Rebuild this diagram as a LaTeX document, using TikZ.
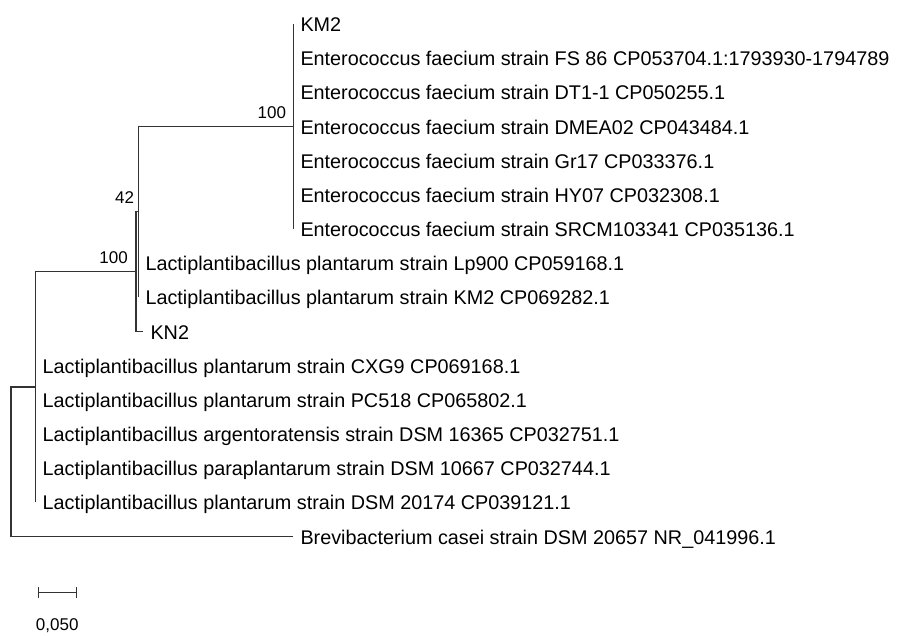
\documentclass[tikz,border=0pt]{standalone}
\usepackage{fontspec}
\setmainfont{Liberation Sans}
\usetikzlibrary{arrows.meta}

\tikzset{
  branch/.style={draw=black!80, line width=1.2pt},
  leaf/.style={anchor=base west, inner sep=0pt, xshift=7pt, yshift=-7.5pt,
    font=\fontsize{19.8}{24}\selectfont},
  boot/.style={anchor=base east, inner sep=0pt, font=\fontsize{17}{20}\selectfont},
}

\begin{document}
\begin{tikzpicture}[x=1pt,y=-1pt]
\useasboundingbox (0,0) rectangle (897,635);

% internal nodes
\coordinate (root) at (11,461.7);
\coordinate (nL) at (35.5,386.9);
\coordinate (nB) at (136,271.6);
\coordinate (n42) at (138.3,211.8);
\coordinate (nE) at (293.3,126.5);

% tips
\coordinate (km2) at (293.3,24);
\coordinate (fs86) at (293.3,58.17);
\coordinate (dt11) at (293.3,92.34);
\coordinate (dmea) at (293.3,126.51);
\coordinate (gr17) at (293.3,160.68);
\coordinate (hy07) at (293.3,194.85);
\coordinate (srcm) at (293.3,229.02);
\coordinate (lp900) at (138.3,263.19);
\coordinate (lkm2) at (138.3,297.36);
\coordinate (kn2) at (143.3,331.53);
\coordinate (cxg9) at (35.5,365.7);
\coordinate (pc518) at (35.5,399.87);
\coordinate (argen) at (35.5,434.04);
\coordinate (parap) at (35.5,468.21);
\coordinate (dsm) at (35.5,502.38);
\coordinate (brevi) at (293.3,536.55);

% branches
\draw[branch] (root) |- (nL);
\draw[branch] (root) |- (brevi);
\draw[branch] (nL) |- (nB);
\foreach \t in {cxg9,pc518,argen,parap,dsm}
  \draw[branch] (nL) |- (\t);
\draw[branch] (nB) |- (n42);
\draw[branch] (nB) |- (kn2);
\draw[branch] (n42) |- (nE);
\draw[branch] (n42) |- (lp900);
\draw[branch] (n42) |- (lkm2);
\foreach \t in {km2,fs86,dt11,dmea,gr17,hy07,srcm}
  \draw[branch] (nE) |- (\t);

% labels
\node[leaf] (tkm2) at (km2) {KM2};
\node[leaf] (tfs86) at (fs86) {Enterococcus faecium strain FS 86 CP053704.1:1793930-1794789};
\node[leaf] (tdt11) at (dt11) {Enterococcus faecium strain DT1-1 CP050255.1};
\node[leaf] (tdmea) at (dmea) {Enterococcus faecium strain DMEA02 CP043484.1};
\node[leaf] (tgr17) at (gr17) {Enterococcus faecium strain Gr17 CP033376.1};
\node[leaf] (thy07) at (hy07) {Enterococcus faecium strain HY07 CP032308.1};
\node[leaf] (tsrcm) at (srcm) {Enterococcus faecium strain SRCM103341 CP035136.1};
\node[leaf] (tlp900) at (lp900) {Lactiplantibacillus plantarum strain Lp900 CP059168.1};
\node[leaf] (tlkm2) at (lkm2) {Lactiplantibacillus plantarum strain KM2 CP069282.1};
\node[leaf] (tkn2) at (kn2) {KN2};
\node[leaf] (tcxg9) at (cxg9) {Lactiplantibacillus plantarum strain CXG9 CP069168.1};
\node[leaf] (tpc518) at (pc518) {Lactiplantibacillus plantarum strain PC518 CP065802.1};
\node[leaf] (targen) at (argen) {Lactiplantibacillus argentoratensis strain DSM 16365 CP032751.1};
\node[leaf] (tparap) at (parap) {Lactiplantibacillus paraplantarum strain DSM 10667 CP032744.1};
\node[leaf] (tdsm) at (dsm) {Lactiplantibacillus plantarum strain DSM 20174 CP039121.1};
\node[leaf] (tbrevi) at (brevi) {Brevibacterium casei strain DSM 20657 NR\_041996.1};

% bootstrap values
\node[boot] (bE) at ([xshift=-7pt,yshift=8.2pt]nE) {100};
\node[boot] (b42) at ([xshift=-4pt,yshift=8.5pt]n42) {42};
\node[boot] (bB) at ([xshift=-8pt,yshift=8.3pt]nB) {100};

% scale bar
\coordinate (sbl) at (37.7,592.7);
\coordinate (sbr) at (76.7,592.7);
\coordinate (sbm) at (57.2,592.7);
\draw[branch, {Bar[width=11pt]}-{Bar[width=11pt]}] (sbl) -- (sbr);
\node[boot, anchor=base] (tsb) at ([yshift=-37.8pt]sbm) {0,050};
\end{tikzpicture}
\end{document}
